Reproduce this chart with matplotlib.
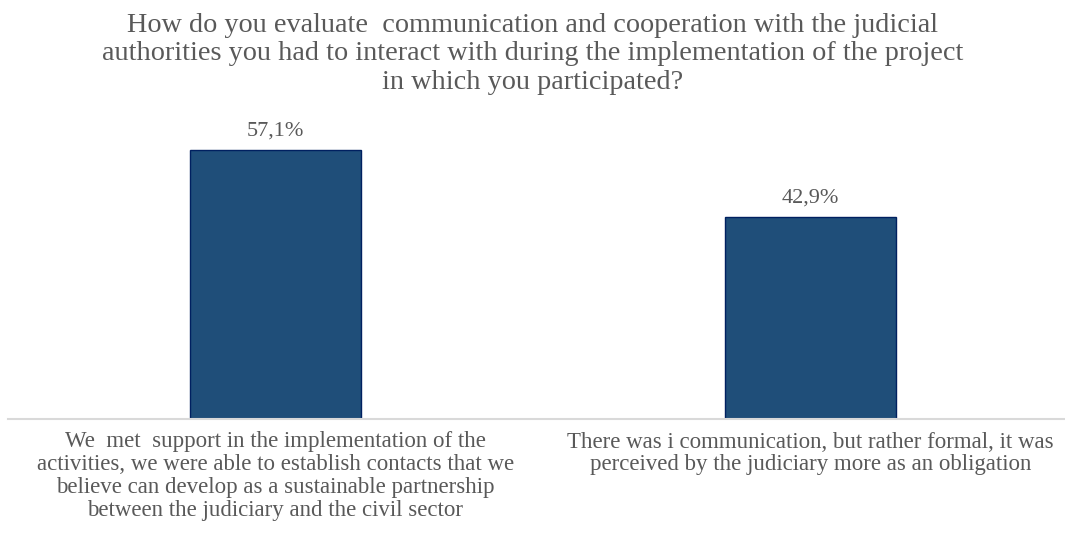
import matplotlib.pyplot as plt

plt.rcParams['font.family'] = ['Liberation Serif', 'DejaVu Serif']

title = ("How do you evaluate  communication and cooperation with the judicial\n"
         "authorities you had to interact with during the implementation of the project\n"
         "in which you participated?")
categories = [
    "We  met  support in the implementation of the\nactivities, we were able to establish contacts that we\n"
    "believe can develop as a sustainable partnership\nbetween the judiciary and the civil sector",
    "There was i communication, but rather formal, it was\nperceived by the judiciary more as an obligation",
]
values = [57.1, 42.9]
value_labels = ["57,1%", "42,9%"]

fig = plt.figure(figsize=(10.65, 5.42), dpi=100)
ax = fig.add_axes([8 / 1065, 123 / 542, 1070 / 1065, 289 / 542])

x = range(len(values))
ax.bar(x, values, width=0.318, color='#1F4E79', edgecolor='#002060', linewidth=1)
ax.set_xlim(-0.5, 1.5)
ax.set_ylim(0, 61.4)

for i, (v, lab) in enumerate(zip(values, value_labels)):
    ax.annotate(lab, (i, v), xytext=(0, 7), textcoords='offset points',
                ha='center', va='bottom', fontsize=16, color='#595959')

for s in ax.spines.values():
    s.set_visible(False)
ax.axhline(0, color='#D9D9D9', linewidth=1.5, clip_on=False)
ax.set_yticks([])
ax.set_xticks(list(x))
ax.set_xticklabels(categories, fontsize=16.5, color='#595959', linespacing=1.11)
ax.tick_params(axis='x', length=0, pad=9)

fig.text(0.5, 1 - 13 / 542, title, ha='center', va='top', fontsize=20.3,
         color='#595959', linespacing=1.18)

fig.savefig('out.png', dpi=100)
